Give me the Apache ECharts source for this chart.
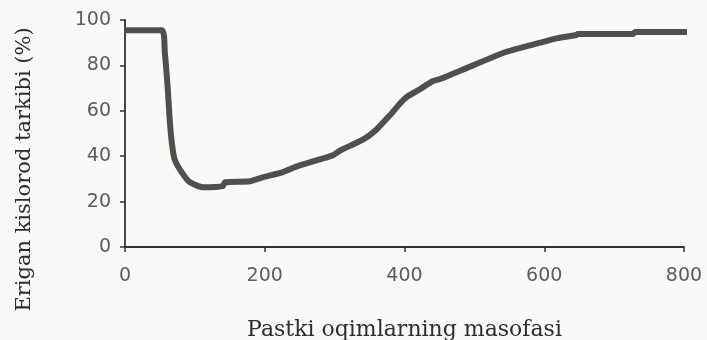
<!DOCTYPE html>
<html>
<head>
<meta charset="utf-8">
<style>
  html, body { margin: 0; padding: 0; background: #f9f9f8; }
  #chart { width: 707px; height: 340px; }
</style>
<script src="https://cdn.jsdelivr.net/npm/echarts@6/dist/echarts.min.js"></script>
</head>
<body>
<div id="chart"></div>
<script>
// Distance downstream and dissolved oxygen content (%)
const distance = [0, 53, 57, 61, 64, 67, 71, 81, 93, 112, 140, 143, 179, 197, 226, 246, 298, 308, 341, 360, 379, 393, 403, 422, 440, 451, 498, 546, 594, 619, 646, 648, 727, 730, 805];
const oxygen   = [95.5, 95.5, 85.5, 70.6, 56, 46, 38.6, 33, 28.5, 26.3, 26.8, 28.5, 29, 30.7, 33, 35.5, 40.5, 42.5, 47.4, 51.8, 58, 63, 66, 69.5, 73, 74, 80, 86, 90, 92, 93.4, 93.8, 93.8, 94.7, 94.7];

const xTicks = [0, 200, 400, 600, 800];
const yTicks = [0, 20, 40, 60, 80, 100];

const xTitle = 'Pastki oqimlarning masofasi';
const yTitle = 'Erigan kislorod tarkibi (%)';

const points = distance.map((d, i) => [d, oxygen[i]]);

const chart = echarts.init(document.getElementById('chart'), null, { renderer: 'canvas' });

const axisCommon = {
  axisLine: { show: true, lineStyle: { color: '#333333', width: 1.8 } },
  axisTick: { show: true, inside: false, length: 5, lineStyle: { color: '#333333', width: 1.5 } },
  splitLine: { show: false },
  axisLabel: {
    color: '#5c5c5c',
    fontFamily: 'DejaVu Sans',
    fontSize: 19
  },
  nameTextStyle: {
    color: '#2e2e2e',
    fontFamily: 'DejaVu Serif',
    fontSize: 22
  }
};

chart.setOption({
  animation: false,
  backgroundColor: '#f9f9f8',
  grid: { left: 125, right: 23, top: 20, bottom: 93, containLabel: false, outerBoundsMode: 'none' },
  xAxis: Object.assign({}, axisCommon, {
    type: 'value',
    min: xTicks[0],
    max: xTicks[xTicks.length - 1],
    interval: xTicks[1] - xTicks[0],
    name: xTitle,
    nameLocation: 'middle',
    nameGap: 72,
    axisLabel: Object.assign({}, axisCommon.axisLabel, { margin: 20 })
  }),
  yAxis: Object.assign({}, axisCommon, {
    type: 'value',
    min: yTicks[0],
    max: yTicks[yTicks.length - 1],
    interval: yTicks[1] - yTicks[0],
    name: yTitle,
    nameLocation: 'middle',
    nameGap: 90,
    nameTextStyle: Object.assign({}, axisCommon.nameTextStyle, {
      fontSize: 21,
      padding: [0, 72, 0, 0]
    }),
    axisLabel: Object.assign({}, axisCommon.axisLabel, { margin: 14 })
  }),
  series: [{
    type: 'line',
    data: points,
    showSymbol: false,
    smooth: 0.2,
    clip: false,
    lineStyle: { color: '#4f4f4f', width: 6, cap: 'butt', join: 'round' }
  }]
});
</script>
</body>
</html>
